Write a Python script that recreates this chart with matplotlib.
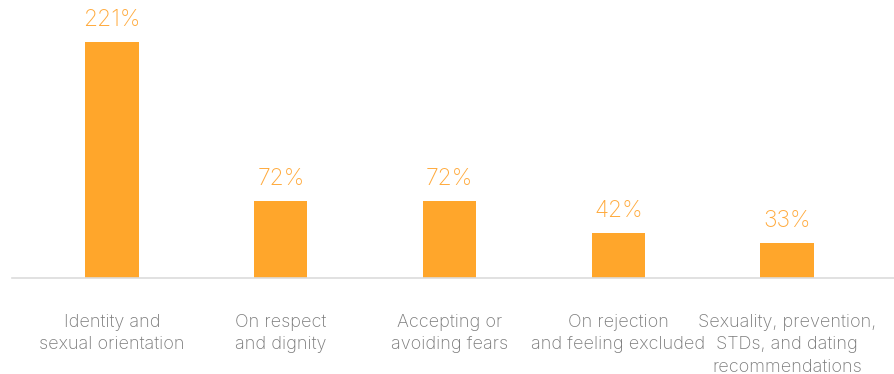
import matplotlib.pyplot as plt

# topic categories and share of mentions
categories = [
    "Identity and\nsexual orientation",
    "On respect\nand dignity",
    "Accepting or\navoiding fears",
    "On rejection\nand feeling excluded",
    "Sexuality, prevention,\nSTDs, and dating\nrecommendations",
]
values = [221, 72, 72, 42, 33]
value_labels = ["221%", "72%", "72%", "42%", "33%"]

bar_color = "#FFA62B"
text_orange = "#FFAA3C"
text_gray = "#7A7A7A"

plt.rcParams["font.family"] = ["Inter", "DejaVu Sans"]

fig = plt.figure(figsize=(8.95, 3.74), dpi=100)
# axes spans the baseline; bottom at baseline y=278px
ax = fig.add_axes([12 / 895, (374 - 278) / 374, (895 - 12) / 895, 236 / 374])

x = range(len(values))
ax.bar(x, values, width=0.315, color=bar_color)

for xi, v, lab in zip(x, values, value_labels):
    ax.annotate(lab, (xi, v), xytext=(0, 8), textcoords="offset points",
                ha="center", va="bottom", color=text_orange, fontsize=16.5,
                fontweight="light")

ax.set_xlim(-0.593, 4.64)
ax.set_ylim(0, 221)

for s in ["top", "right", "left"]:
    ax.spines[s].set_visible(False)
ax.spines["bottom"].set_color("#DCDCDC")
ax.spines["bottom"].set_linewidth(1.2)

ax.set_yticks([])
ax.set_xticks(list(x))
ax.set_xticklabels(categories, color=text_gray, fontsize=13, fontweight="light",
                   linespacing=1.4, va="top")
ax.tick_params(axis="x", length=0, pad=26)

fig.savefig("out.png", dpi=100)
